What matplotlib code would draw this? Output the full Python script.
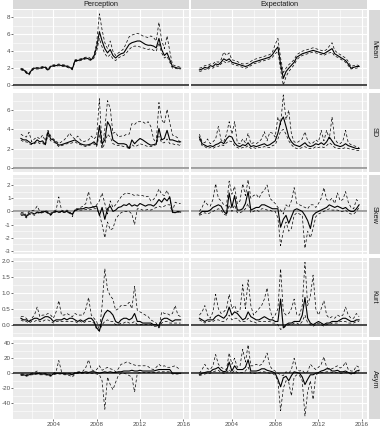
import numpy as np
import matplotlib
matplotlib.use("Agg")
import matplotlib.pyplot as plt

plt.rcParams['font.family'] = ['Liberation Sans', 'DejaVu Sans']

W, H = 380, 429
quarters = 2001 + np.arange(60) / 4

columns = ["Perception", "Expectation"]
rows = ["Mean", "SD", "Skew", "Kurt", "Asym"]

# ---------------- Perception ----------------
P_MEAN = [1.9,1.8,1.5,1.3, 1.8,2.0,2.0,2.0, 2.1,2.1,1.8,2.2,
          2.3,2.3,2.4,2.3, 2.3,2.2,2.1,1.9, 2.9,2.9,3.0,3.1,
          3.2,3.1,3.0,3.4, 4.5,6.3,5.2,4.3, 3.8,4.2,3.5,3.2,
          3.5,3.7,3.8,4.3, 4.8,5.0,5.1,5.2, 5.2,5.0,4.8,4.7,
          4.7,4.6,4.4,5.5, 4.2,3.5,3.8,3.0, 2.2,2.1,2.0,2.0]
P_MEAN_U = [2.0,1.9,1.6,1.4, 1.9,2.1,2.1,2.1, 2.2,2.2,1.9,2.3,
            2.4,2.4,2.5,2.4, 2.4,2.3,2.2,2.0, 3.0,3.0,3.1,3.2,
            3.3,3.3,3.1,3.5, 5.0,8.4,6.5,5.0, 4.3,5.2,4.0,3.5,
            3.8,4.0,4.3,5.0, 5.7,5.9,6.0,6.1, 6.0,5.8,5.7,5.6,
            5.8,5.6,5.2,7.4, 5.3,4.3,5.8,4.0, 2.4,2.3,2.2,2.1]
P_MEAN_L = [1.8,1.7,1.4,1.2, 1.7,1.9,1.9,1.9, 2.0,2.0,1.7,2.1,
            2.2,2.2,2.3,2.2, 2.2,2.1,2.0,1.8, 2.8,2.8,2.9,3.0,
            3.1,3.0,2.9,3.2, 4.0,5.5,4.5,3.7, 3.3,3.6,3.1,2.9,
            3.2,3.4,3.5,3.8, 4.2,4.5,4.6,4.6, 4.5,4.4,4.3,4.2,
            4.3,4.1,4.0,5.0, 3.8,3.2,3.4,2.7, 2.0,2.0,1.9,1.9]

P_SD = [3.05,2.9,2.9,2.7, 2.5,2.6,2.9,2.7, 2.8,2.4,3.75,3.0,
        2.9,2.6,2.35,2.4, 2.5,2.6,2.7,2.8, 2.9,2.7,2.5,2.4,
        2.35,2.4,2.5,2.7, 2.35,4.4,2.5,2.9, 4.8,4.3,2.9,2.7,
        2.5,2.5,2.5,2.4, 2.0,2.9,2.5,2.8, 3.05,2.9,2.7,2.5,
        2.35,2.4,2.5,4.1, 2.9,3.05,3.9,2.9, 2.9,2.8,2.7,2.7]
P_SD_U = [3.5,3.3,3.2,3.7, 2.7,3.0,3.2,3.0, 3.4,2.8,3.9,3.3,
          3.0,2.8,2.5,2.7, 2.9,3.2,3.6,3.2, 3.0,3.3,2.9,2.7,
          2.8,2.9,3.3,3.0, 3.3,7.2,2.1,4.0, 7.0,6.2,3.6,3.7,
          3.2,3.3,3.3,3.5, 3.5,4.6,4.5,4.8, 4.8,4.8,4.6,4.8,
          4.3,3.0,2.6,6.8, 5.0,4.6,6.1,4.7, 3.4,3.3,3.1,2.4]
P_SD_L = [2.9,2.7,2.7,2.5, 2.4,2.5,2.7,2.5, 2.6,2.3,3.4,2.8,
          2.7,2.5,2.2,2.3, 2.4,2.5,2.5,2.6, 2.7,2.5,2.4,2.3,
          2.2,2.3,2.4,2.5, 2.2,3.5,2.0,2.5, 3.5,3.2,2.5,2.4,
          2.3,2.3,2.2,2.2, 1.9,2.4,2.2,2.3, 2.5,2.4,2.3,2.2,
          2.2,2.3,2.4,3.3, 2.6,2.6,3.0,2.5, 2.5,2.4,2.4,2.3]

P_SKEW = [-0.2,-0.2,-0.4,-0.15, -0.1,-0.2,-0.05,-0.1, -0.05,0.0,-0.1,-0.25,
          -0.05,0.0,-0.05,0.0, -0.05,0.0,-0.1,-0.2, 0.1,0.15,0.2,0.2,
          0.3,0.25,0.3,0.35, 0.4,-0.3,0.3,-0.6, 0.2,0.4,0.0,0.1,
          0.3,0.35,0.5,0.45, 0.6,0.4,0.5,0.4, 0.6,0.5,0.4,0.5,
          0.5,0.4,0.6,0.9, 0.7,1.0,0.8,1.1, -0.05,-0.1,0.0,-0.05]
P_SKEW_U = [-0.1,-0.05,-0.3,0.0, 0.05,0.1,0.4,0.0, 0.0,0.05,0.0,-0.15,
            0.0,0.1,1.1,0.1, 0.0,0.1,0.0,-0.4, 0.2,0.2,0.3,0.4,
            0.6,1.5,0.5,0.3, 0.5,0.8,1.4,0.6, -0.2,0.8,0.3,0.5,
            0.8,1.1,1.3,1.4, 1.35,1.3,1.2,1.25, 1.2,1.2,1.1,1.15,
            0.8,0.9,1.2,1.7, 1.3,1.2,1.6,1.0, 0.0,0.7,0.6,0.6]
P_SKEW_L = [-0.3,-0.3,-0.5,-0.25, -0.2,-0.3,-0.1,-0.15, -0.1,-0.05,-0.15,-0.3,
            -0.1,-0.05,-0.1,-0.05, -0.1,-0.05,-0.15,-0.25, 0.05,0.1,0.1,0.1,
            0.15,0.1,0.15,0.2, 0.2,-0.2,-1.0,-2.0, -0.8,-1.4,-1.3,-0.6,
            -0.3,-0.1,0.0,0.0, 0.0,-0.2,-1.0,0.2, 0.2,0.1,0.1,0.15,
            0.1,0.2,0.3,0.4, 0.3,0.4,0.5,0.5, -0.1,-0.1,-0.05,-0.1]

P_KURT = [0.2,0.15,0.15,0.1, 0.15,0.2,0.2,0.15, 0.2,0.25,0.25,0.2,
          0.1,0.15,0.15,0.15, 0.2,0.15,0.2,0.2, 0.15,0.1,0.15,0.1,
          0.15,0.2,0.2,0.1, -0.1,-0.2,0.15,0.35, 0.45,0.4,0.3,0.1,
          0.05,0.15,0.2,0.2, 0.15,0.2,0.35,0.1, 0.1,0.05,0.05,0.05,
          0.05,0.0,0.0,-0.05, 0.15,0.2,0.2,0.15, 0.1,0.15,0.15,0.15]
P_KURT_U = [0.25,0.25,0.2,0.1, 0.2,0.3,0.55,0.25, 0.3,0.3,0.35,0.3,
            0.2,0.4,0.75,0.3, 0.3,0.35,0.3,0.25, 0.35,0.3,0.3,0.3,
            0.5,0.85,0.3,0.2, 0.1,-0.2,0.6,1.75, 1.1,0.9,0.8,0.45,
            0.5,0.6,0.6,0.6, 0.7,0.5,1.2,0.45, 0.4,0.35,0.3,0.25,
            0.15,0.1,0.05,-0.1, 0.4,0.35,0.35,0.3, 0.35,0.6,0.3,0.25]
P_KURT_L = [0.15,0.1,0.1,0.05, 0.1,0.1,0.15,0.1, 0.1,0.15,0.15,0.1,
            0.05,0.1,0.1,0.1, 0.1,0.1,0.1,0.1, 0.1,0.05,0.1,0.05,
            0.1,0.1,0.1,0.05, -0.15,-0.2,0.0,0.1, 0.15,0.1,0.1,0.0,
            0.0,0.05,0.05,0.1, 0.05,0.05,0.1,0.0, 0.0,0.0,0.0,0.0,
            0.0,-0.05,-0.05,-0.1, 0.05,0.1,0.1,0.05, 0.05,0.05,0.05,0.05]

P_ASYM = [-2,-2,-3,-2, -1,-1,0,-1, -1,-1,-2,-3,
          -1,0,0,0, -1,-1,-1,-2, 0,1,1,1,
          2,1,2,2, 1,0,1,2, 1,2,1,1,
          2,2,3,3, 3,4,3,3, 4,3,3,3,
          3,3,4,5, 5,5,5,5, 0,0,0,0]
P_ASYM_U = [-1,-1,-2,-1, 0,1,3,0, 0,0,-1,-2,
            0,2,17,2, 0,0,0,-1, 1,2,2,3,
            8,18,5,3, 5,10,4,6, 8,6,5,2,
            6,12,13,15, 14,12,11,10, 10,10,10,9,
            6,5,8,12, 9,10,8,8, 9,10,7,5]
P_ASYM_L = [-3,-3,-4,-3, -2,-2,-1,-2, -2,-2,-3,-4,
            -2,-1,-1,-1, -2,-2,-3,-5, -1,0,0,0,
            0,0,0,0, -1,-2,-10,-48, -5,-15,-22,-12,
            -3,0,0,-1, -3,-5,-25,0, 1,1,1,1,
            1,1,1,2, 2,2,2,2, -1,-1,-1,-1]

# ---------------- Expectation ----------------
E_MEAN = [1.8,1.9,2.1,2.0, 2.3,2.2,2.5,2.4, 2.7,3.1,2.9,3.1,
          2.7,2.6,2.5,2.4, 2.3,2.2,2.3,2.5, 2.7,2.8,2.9,3.0,
          3.1,3.2,3.3,3.6, 4.1,4.5,2.5,0.8, 1.6,2.0,2.35,2.7,
          3.3,3.5,3.7,3.8, 3.9,4.0,4.1,4.0, 3.9,3.8,3.7,3.9,
          4.1,4.3,3.7,3.5, 3.3,3.1,2.9,2.5, 2.0,2.1,2.2,2.2]
E_MEAN_U = [2.0,2.1,2.3,2.3, 2.5,2.5,2.8,2.7, 3.0,3.9,3.5,3.8,
            3.0,2.9,2.8,2.6, 2.5,2.5,2.6,2.8, 3.0,3.1,3.2,3.3,
            3.4,3.5,3.6,3.9, 4.8,5.5,3.2,1.5, 2.0,2.4,2.7,3.0,
            3.6,3.8,4.0,4.1, 4.2,4.3,4.4,4.3, 4.2,4.1,4.0,4.2,
            4.6,5.0,4.1,3.8, 3.6,3.4,3.2,2.8, 2.2,2.3,2.4,2.3]
E_MEAN_L = [1.6,1.7,1.9,1.8, 2.1,2.0,2.3,2.2, 2.5,2.8,2.6,2.8,
            2.5,2.4,2.3,2.2, 2.1,2.0,2.1,2.3, 2.5,2.6,2.7,2.8,
            2.9,3.0,3.1,3.3, 3.7,4.0,1.8,0.0, 1.0,1.6,2.0,2.4,
            3.0,3.3,3.5,3.6, 3.7,3.8,3.9,3.8, 3.7,3.6,3.5,3.7,
            3.8,3.9,3.4,3.3, 3.1,2.9,2.7,2.3, 1.9,2.0,2.0,2.1]

E_SD = [3.2,2.5,2.35,2.2, 2.3,2.2,2.4,2.5, 2.7,2.5,3.0,3.3,
        3.2,2.6,2.3,2.2, 2.4,2.3,2.6,2.2, 2.3,2.2,2.3,2.4,
        2.5,2.3,2.4,2.6, 2.8,3.6,4.8,5.3, 4.3,3.2,2.7,2.4,
        2.3,2.2,2.4,2.6, 2.3,2.2,2.3,2.5, 2.4,2.6,2.4,2.7,
        3.2,2.8,2.4,2.3, 2.2,2.3,2.5,2.3, 2.2,2.1,2.0,2.0]
E_SD_U = [3.5,2.7,2.6,3.0, 2.5,2.7,3.0,4.3, 2.9,2.7,3.5,4.8,
          3.5,4.8,2.6,2.5, 3.0,2.6,3.6,2.5, 2.6,2.5,2.7,3.0,
          3.75,2.8,3.7,3.6, 3.2,5.3,4.5,7.6, 5.0,6.0,3.5,2.7,
          2.6,2.8,3.0,3.75, 2.8,2.5,2.6,2.9, 2.7,3.9,2.8,3.9,
          3.0,5.3,3.0,2.6, 2.5,2.8,3.9,2.6, 2.4,2.3,2.2,2.1]
E_SD_L = [3.0,2.3,2.2,2.0, 2.1,2.0,2.2,2.2, 2.4,2.3,2.6,2.8,
          2.7,2.3,2.1,2.0, 2.1,2.1,2.3,2.0, 2.1,2.0,2.1,2.1,
          2.2,2.1,2.1,2.3, 2.4,3.0,3.8,4.0, 3.5,2.8,2.4,2.1,
          2.0,2.0,2.1,2.2, 2.0,2.0,2.0,2.2, 2.1,2.2,2.1,2.3,
          2.6,2.4,2.1,2.0, 2.0,2.0,2.1,2.0, 1.9,1.9,1.8,1.8]

E_SKEW = [-0.2,0.0,0.0,0.0, 0.1,0.3,0.4,0.5, 0.4,0.0,-0.2,1.4,
          0.3,1.2,0.1,0.1, 0.2,0.6,1.5,0.1, 0.2,0.3,0.3,0.5,
          0.5,0.4,0.3,0.2, 0.2,0.2,-1.2,-0.6, -0.3,-0.9,-0.4,0.1,
          0.2,0.1,0.0,-0.3, -0.7,-1.3,-0.3,-0.1, 0.0,0.1,0.2,0.3,
          0.5,0.4,0.3,0.4, 0.3,0.2,0.3,0.1, 0.0,0.0,0.2,0.5]
E_SKEW_U = [0.0,0.3,0.8,0.5, 0.4,0.9,2.1,1.0, 0.8,0.5,0.4,2.3,
            1.3,1.9,0.6,0.8, 2.1,1.2,2.4,1.0, 1.2,1.3,1.0,1.4,
            1.6,2.0,1.0,0.8, 0.6,0.3,0.1,-0.2, 0.5,0.3,0.8,1.8,
            0.6,0.5,0.4,0.3, 0.2,0.5,0.5,0.3, 0.6,1.0,1.8,0.9,
            0.8,1.0,0.6,1.4, 0.8,0.9,1.5,0.7, 0.3,0.2,0.9,0.7]
E_SKEW_L = [-0.3,-0.2,-0.1,-0.2, -0.1,0.0,0.1,0.2, 0.1,-0.2,-0.3,0.5,
            0.0,0.5,-0.1,-0.1, 0.0,0.2,0.6,-0.1, 0.0,0.1,0.0,0.2,
            0.2,0.1,0.1,0.0, 0.0,-0.5,-2.6,-1.5, -0.8,-1.5,-1.3,-0.3,
            -0.1,-0.2,-0.3,-2.8, -1.5,-2.0,-1.3,-0.4, -0.2,-0.1,0.0,0.1,
            0.2,0.1,0.1,0.1, 0.0,0.0,0.1,-0.1, -0.2,-0.2,0.0,0.3]

E_KURT = [0.2,0.15,0.1,0.15, 0.15,0.15,0.25,0.3, 0.25,0.2,0.3,0.55,
          0.3,0.4,0.35,0.25, 0.15,0.2,0.4,0.25, 0.2,0.15,0.15,0.2,
          0.25,0.2,0.15,0.15, 0.1,0.1,0.8,-0.1, 0.0,0.05,0.05,0.1,
          0.1,0.1,0.3,0.85, 0.2,0.05,0.0,0.05, 0.1,0.05,0.0,0.05,
          0.05,0.1,0.1,0.1, 0.15,0.2,0.2,0.15, 0.1,0.1,0.15,0.15]
E_KURT_U = [0.3,0.4,0.6,0.3, 0.2,0.4,0.95,0.5, 0.35,0.4,0.5,0.95,
            0.5,0.6,0.4,0.45, 1.25,0.5,1.4,0.6, 0.3,0.4,0.5,0.6,
            0.8,1.15,0.5,0.2, 0.3,0.5,1.75,0.4, 0.3,0.35,0.5,0.8,
            0.3,0.3,0.6,1.95, 0.6,0.9,1.55,0.5, 0.3,0.5,0.75,0.3,
            0.2,0.25,0.2,0.3, 0.25,0.3,0.55,0.3, 0.2,0.2,0.35,0.25]
E_KURT_L = [0.15,0.1,0.05,0.1, 0.1,0.1,0.15,0.15, 0.1,0.1,0.15,0.3,
            0.15,0.2,0.2,0.1, 0.1,0.1,0.2,0.1, 0.1,0.05,0.1,0.1,
            0.1,0.1,0.1,0.05, 0.05,0.0,-0.15,-0.1, -0.05,0.0,0.0,0.05,
            0.05,0.0,0.1,0.3, 0.05,0.0,-0.05,0.0, 0.05,0.0,-0.05,0.0,
            0.0,0.05,0.05,0.05, 0.1,0.1,0.1,0.05, 0.05,0.05,0.1,0.1]

E_ASYM = [-2,0,1,2, 2,5,6,8, 4,2,3,15,
          3,10,5,5, 5,8,18,3, 3,3,4,6,
          6,4,3,2, 0,-8,-18,-6, -4,-10,-3,2,
          1,0,-5,-15, -8,-2,-2,0, 1,3,4,6,
          6,3,3,4, 2,2,3,1, 0,0,3,4]
E_ASYM_U = [0,5,12,6, 5,10,25,12, 8,6,5,27,
            12,20,8,10, 32,15,38,10, 10,12,10,12,
            18,27,10,5, 3,0,-2,-3, 2,0,5,20,
            5,3,4,0, 2,12,8,5, 8,12,22,8,
            5,6,8,10, 7,9,15,5, 3,3,10,8]
E_ASYM_L = [-3,-2,-1,0, 0,2,3,4, 1,0,0,5,
            0,4,1,1, 1,3,8,0, 0,0,1,2,
            2,1,0,0, -3,-10,-50,-20, -10,-12,-30,-5,
            -2,-3,-10,-57, -25,-10,-35,-2, 0,1,1,2,
            2,1,1,1, 0,0,1,0, -1,-1,1,2]

x_major = [2004, 2008, 2012, 2016]
x_minor = [2002, 2006, 2010, 2014]

data = {
    ("Perception", "Mean"): (P_MEAN, P_MEAN_U, P_MEAN_L),
    ("Perception", "SD"): (P_SD, P_SD_U, P_SD_L),
    ("Perception", "Skew"): (P_SKEW, P_SKEW_U, P_SKEW_L),
    ("Perception", "Kurt"): (P_KURT, P_KURT_U, P_KURT_L),
    ("Perception", "Asym"): (P_ASYM, P_ASYM_U, P_ASYM_L),
    ("Expectation", "Mean"): (E_MEAN, E_MEAN_U, E_MEAN_L),
    ("Expectation", "SD"): (E_SD, E_SD_U, E_SD_L),
    ("Expectation", "Skew"): (E_SKEW, E_SKEW_U, E_SKEW_L),
    ("Expectation", "Kurt"): (E_KURT, E_KURT_U, E_KURT_L),
    ("Expectation", "Asym"): (E_ASYM, E_ASYM_U, E_ASYM_L),
}

ylims = {"Mean": (-0.45, 8.85), "SD": (-0.4, 7.85), "Skew": (-3.23, 2.76),
         "Kurt": (-0.37, 2.1), "Asym": (-61, 44.4)}
y_major = {"Mean": [0, 2, 4, 6, 8], "SD": [0, 2, 4, 6], "Skew": [-3, -2, -1, 0, 1, 2],
           "Kurt": [0, 0.5, 1.0, 1.5, 2.0], "Asym": [-40, -20, 0, 20, 40]}
y_labels = {"Mean": ["0", "2", "4", "6", "8"], "SD": ["0", "2", "4", "6"],
            "Skew": ["-3", "-2", "-1", "0", "1", "2"],
            "Kurt": ["0.0", "0.5", "1.0", "1.5", "2.0"],
            "Asym": ["-40", "-20", "0", "20", "40"]}
y_minor = {"Mean": [1, 3, 5, 7], "SD": [1, 3, 5, 7],
           "Skew": [-2.5, -1.5, -0.5, 0.5, 1.5, 2.5],
           "Kurt": [-0.25, 0.25, 0.75, 1.25, 1.75],
           "Asym": [-50, -30, -10, 10, 30]}
zero_col = {"Mean": "#1a1a1a", "SD": "#8a8a8a", "Skew": "#8a8a8a",
            "Kurt": "#1a1a1a", "Asym": "#1a1a1a"}

fig = plt.figure(figsize=(W / 100, H / 100), dpi=100)
fig.patch.set_facecolor("white")

col_x = [(13.0, 188.5), (191.5, 367.0)]
row_y = [(10.0, 89.0), (92.5, 171.5), (175.0, 254.0), (257.5, 336.5), (340.0, 419.0)]
xlim = (2000.27, 2016.48)

def rect(x0, y0, x1, y1):
    return [x0 / W, 1 - y1 / H, (x1 - x0) / W, (y1 - y0) / H]

# top strips
for ci, cname in enumerate(columns):
    x0, x1 = col_x[ci]
    sa = fig.add_axes(rect(x0, 0.0, x1, 9.0))
    sa.set_facecolor("#D9D9D9")
    sa.set_xticks([]); sa.set_yticks([])
    for s in sa.spines.values():
        s.set_visible(False)
    sa.text(0.5, 0.45, cname, ha="center", va="center", fontsize=5.3,
            color="#1A1A1A", transform=sa.transAxes)

# right strips
for ri, rname in enumerate(rows):
    y0, y1 = row_y[ri]
    sa = fig.add_axes(rect(368.5, y0, 380.0, y1))
    sa.set_facecolor("#D9D9D9")
    sa.set_xticks([]); sa.set_yticks([])
    for s in sa.spines.values():
        s.set_visible(False)
    sa.text(0.5, 0.5, rname, ha="center", va="center", fontsize=5.3,
            color="#1A1A1A", rotation=-90, transform=sa.transAxes)

for ri, rname in enumerate(rows):
    for ci, cname in enumerate(columns):
        x0, x1 = col_x[ci]
        y0, y1 = row_y[ri]
        ax = fig.add_axes(rect(x0, y0, x1, y1))
        ax.set_facecolor("#EBEBEB")
        for s in ax.spines.values():
            s.set_visible(False)
        ax.set_xlim(*xlim)
        ax.set_ylim(*ylims[rname])
        ax.set_xticks(x_major)
        ax.set_xticks(x_minor, minor=True)
        ax.set_yticks(y_major[rname])
        ax.set_yticks(y_minor[rname], minor=True)
        ax.grid(which="major", color="white", linewidth=0.8)
        ax.grid(which="minor", color="white", linewidth=0.4)
        ax.set_axisbelow(True)
        ax.tick_params(which="minor", length=0)
        ax.tick_params(which="major", length=1.2, width=0.5, color="#333333",
                       labelsize=4.5, labelcolor="#4D4D4D", pad=0.6)
        if ci == 0:
            ax.set_yticklabels(y_labels[rname])
        else:
            ax.tick_params(axis="y", which="major", length=0, labelleft=False)
        if ri == len(rows) - 1:
            ax.set_xticklabels([str(v) for v in x_major])
        else:
            ax.tick_params(axis="x", which="major", length=0, labelbottom=False)

        mid, up, lo = data[(cname, rname)]
        ax.plot(quarters, up, color="black", lw=0.5, linestyle=(0, (4, 3)))
        ax.plot(quarters, lo, color="black", lw=0.5, linestyle=(0, (4, 3)))
        ax.plot(quarters, mid, color="black", lw=0.8)
        ax.axhline(0, color=zero_col[rname], lw=1.1, zorder=1.5)

fig.savefig("out.png", dpi=100, facecolor="white")
